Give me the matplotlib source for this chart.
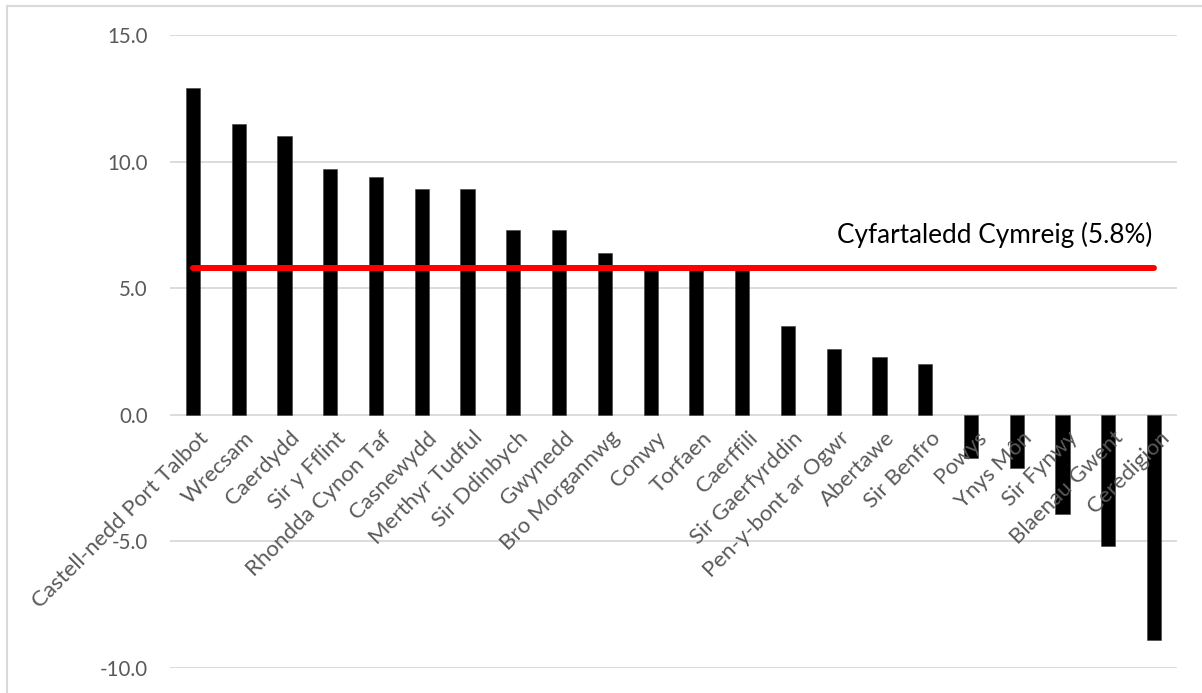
import matplotlib
matplotlib.use("Agg")
import matplotlib.pyplot as plt
from matplotlib.lines import Line2D
import matplotlib.transforms as mtransforms

# Local authority names and percentage change values
areas = [
    "Castell-nedd Port Talbot", "Wrecsam", "Caerdydd", "Sir y Fflint",
    "Rhondda Cynon Taf", "Casnewydd", "Merthyr Tudful", "Sir Ddinbych",
    "Gwynedd", "Bro Morgannwg", "Conwy", "Torfaen", "Caerffili",
    "Sir Gaerfyrddin", "Pen-y-bont ar Ogwr", "Abertawe", "Sir Benfro",
    "Powys", "Ynys Môn", "Sir Fynwy", "Blaenau Gwent", "Ceredigion",
]
values = [12.9, 11.5, 11.0, 9.7, 9.4, 8.9, 8.9, 7.3, 7.3, 6.4, 5.8, 5.8,
          5.7, 3.5, 2.6, 2.3, 2.0, -1.7, -2.1, -3.9, -5.2, -8.9]
wales_average = 5.8
average_label = "Cyfartaledd Cymreig (5.8%)"
y_ticks = [-10, -5, 0, 5, 10, 15]

plt.rcParams['font.family'] = ['Lato', 'DejaVu Sans']

W, H = 1202, 693
fig = plt.figure(figsize=(W / 100, H / 100), dpi=100)
ax = fig.add_axes([170 / W, 1 - 668 / H, (1177 - 170) / W, (668 - 35) / H])

x = list(range(len(areas)))
ax.bar(x, values, width=0.31, color="black", edgecolor="#404040",
       linewidth=0.4, zorder=3)

# Welsh average line across the categories
ax.plot([x[0], x[-1]], [wales_average, wales_average], color="#ff0000",
        linewidth=4.3, solid_capstyle="round", zorder=4)
ax.text(x[-1] - 0.05, wales_average + 1.3, average_label, ha="right",
        va="center", fontsize=18.8, color="black", zorder=5)

ax.set_xlim(-0.5, len(areas) - 0.5)
ax.set_ylim(-10, 15)
ax.set_yticks(y_ticks)
ax.set_yticklabels([f"{v:.1f}" for v in y_ticks])
ax.yaxis.grid(True, color="#d9d9d9", linewidth=1.3, zorder=0)
ax.set_axisbelow(True)
ax.tick_params(axis="y", length=0, pad=16, labelsize=14.8, labelcolor="#595959")
ax.set_xticks([])
for s in ax.spines.values():
    s.set_visible(False)

# Category labels hang just below the zero line
offset = mtransforms.ScaledTranslation(5 / 100, -13 / 100, fig.dpi_scale_trans)
for xi, name in zip(x, areas):
    ax.text(xi, 0, name, rotation=45, ha="right", va="top",
            rotation_mode="anchor", fontsize=16, color="#595959",
            transform=ax.transData + offset)

# Thin frame around the chart
fig.add_artist(Line2D([7 / W, 7 / W], [0, 1 - 6 / H], color="#d9d9d9",
                      linewidth=1.5, transform=fig.transFigure))
fig.add_artist(Line2D([7 / W, 1], [1 - 6 / H, 1 - 6 / H], color="#d9d9d9",
                      linewidth=1.5, transform=fig.transFigure))

fig.savefig("out.png", dpi=100, facecolor="white")
